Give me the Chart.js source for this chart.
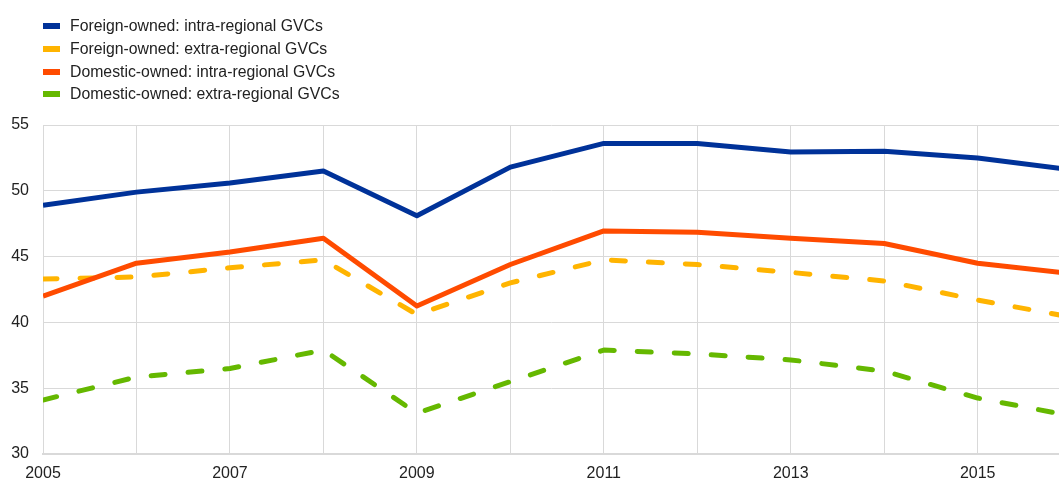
<!DOCTYPE html>
<html>
<head>
<meta charset="utf-8">
<script src="https://cdn.jsdelivr.net/npm/chart.js@4/dist/chart.umd.min.js"></script>
<style>
  html, body { margin: 0; padding: 0; background: #fff; }
  #wrap { position: relative; width: 1059px; height: 480px; }
  #legend { position: absolute; left: 43px; top: 15px; font: 15.8px "Liberation Sans", Arial, sans-serif; color: #222; }
  .item { height: 22.7px; display: flex; align-items: center; }
  .box { width: 17px; height: 6px; margin-right: 10px; }
</style>
</head>
<body>
<div id="wrap">
  <canvas id="myChart" width="1059" height="480"></canvas>
  <div id="legend"></div>
</div>
<script>
// years and series (percent)
var years = [2005, 2006, 2007, 2008, 2009, 2010, 2011, 2012, 2013, 2014, 2015, 2016];
var foreignIntra = [48.9, 49.9, 50.6, 51.5, 48.1, 51.8, 53.6, 53.6, 52.95, 53.0, 52.5, 51.6];
var foreignExtra = [43.3, 43.45, 44.15, 44.75, 40.6, 43.0, 44.75, 44.4, 43.8, 43.15, 41.7, 40.4];
var domesticIntra = [42.0, 44.5, 45.35, 46.4, 41.25, 44.4, 46.95, 46.85, 46.4, 46.0, 44.5, 43.7];
var domesticExtra = [34.1, 35.85, 36.5, 37.9, 33.1, 35.5, 37.9, 37.6, 37.15, 36.3, 34.25, 32.9];
var seriesNames = [
  "Foreign-owned: intra-regional GVCs",
  "Foreign-owned: extra-regional GVCs",
  "Domestic-owned: intra-regional GVCs",
  "Domestic-owned: extra-regional GVCs"
];
var yTicks = [30, 35, 40, 45, 50, 55];

var colors = ["#003299", "#ffb400", "#ff4b00", "#65b800"];
var dashed = [false, true, false, true];
var allData = [foreignIntra, foreignExtra, domesticIntra, domesticExtra];

var myLineChart;

(function () {
  buildChart();
  buildLegend();
})();

function toPoints(vals) {
  return vals.map(function (v, i) { return { x: years[i], y: v }; });
}

function buildChart() {
  var ctx = document.getElementById("myChart").getContext("2d");
  Chart.defaults.font.family = '"Liberation Sans", Arial, sans-serif';
  Chart.defaults.font.size = 16;
  Chart.defaults.color = "#222";

  var datasets = allData.map(function (vals, i) {
    return {
      label: seriesNames[i],
      data: toPoints(vals),
      borderColor: colors[i],
      backgroundColor: colors[i],
      borderWidth: 5,
      borderDash: dashed[i] ? [14, 23] : [],
      borderCapStyle: dashed[i] ? "round" : "butt",
      borderJoinStyle: "round",
      pointRadius: 0,
      tension: 0,
      clip: 0
    };
  });
  // solid lines drawn over the dashed ones
  datasets[0].order = 0;
  datasets[2].order = 1;
  datasets[1].order = 2;
  datasets[3].order = 3;

  myLineChart = new Chart(ctx, {
    type: "line",
    data: { datasets: datasets },
    options: {
      responsive: false,
      animation: false,
      layout: { padding: { top: 125, right: 0, left: 0, bottom: 0 } },
      plugins: { legend: { display: false }, tooltip: { enabled: false } },
      scales: {
        x: {
          type: "linear",
          min: 2005,
          max: 2015.87,
          afterFit: function (s) { s.height = 26; },
          afterBuildTicks: function (s) {
            s.ticks = years.filter(function (y) { return y <= s.max; }).map(function (y) { return { value: y }; });
          },
          ticks: {
            autoSkip: false,
            maxRotation: 0,
            padding: 10,
            callback: function (v) { return (v - 2005) % 2 === 0 ? String(v) : ""; }
          },
          grid: { color: "#d9d9d9", lineWidth: 1, drawTicks: false },
          border: { color: "#d9d9d9", width: 2 }
        },
        y: {
          min: 30,
          max: 55,
          afterFit: function (s) { s.width = 43; },
          afterBuildTicks: function (s) {
            s.ticks = yTicks.map(function (v) { return { value: v }; });
          },
          ticks: { padding: 14 },
          grid: { color: "#d9d9d9", lineWidth: 1, drawTicks: false },
          border: { color: "#d9d9d9", width: 1 }
        }
      }
    }
  });
}

function buildLegend() {
  var el = document.getElementById("legend");
  seriesNames.forEach(function (name, i) {
    var row = document.createElement("div");
    row.className = "item";
    row.innerHTML = '<span class="box" style="background:' + colors[i] + '"></span>' + name;
    el.appendChild(row);
  });
}
</script>
</body>
</html>
